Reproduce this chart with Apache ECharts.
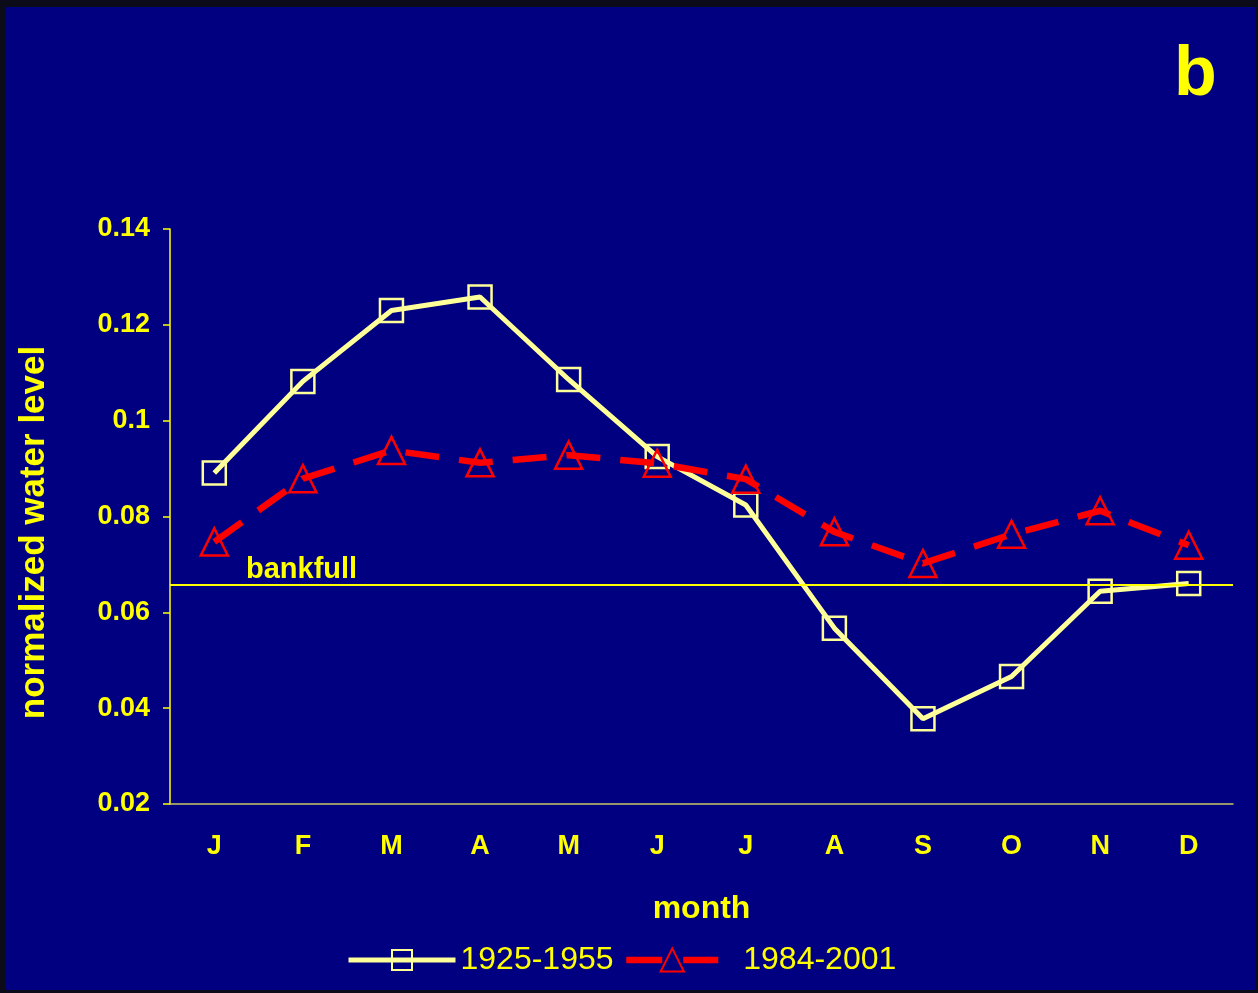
<!DOCTYPE html>
<html>
<head>
<meta charset="utf-8">
<script src="https://cdn.jsdelivr.net/npm/echarts@6/dist/echarts.min.js"></script>
<style>
  html, body { margin: 0; padding: 0; background: #0b0b1a; }
  #chart { position: absolute; left: 0; top: 0; width: 1258px; height: 993px; }
</style>
</head>
<body>
<div id="chart"></div>
<script>
// ---- data ----
var months = ['J', 'F', 'M', 'A', 'M', 'J', 'J', 'A', 'S', 'O', 'N', 'D'];
var level1925 = [0.0891, 0.1082, 0.1230, 0.1258, 0.1086, 0.0925, 0.0824, 0.0567, 0.0378, 0.0466, 0.0644, 0.0660];
var level1984 = [0.0747, 0.0879, 0.0938, 0.0912, 0.0928, 0.0911, 0.0878, 0.0768, 0.0702, 0.0763, 0.0812, 0.0740];
var bankfullLevel = 0.0658;
var yTickLabels = ['0.02', '0.04', '0.06', '0.08', '0.1', '0.12', '0.14'];
var seriesNames = ['1925-1955', '1984-2001'];

var FONT = '"Liberation Sans", Arial, sans-serif';
var YEL = '#FFFF00';
var PALE = '#FFFF99';
var RED = '#FF0000';

var chart = echarts.init(document.getElementById('chart'), null, { renderer: 'canvas' });
chart.setOption({
  backgroundColor: '#0b0b1a',
  animation: false,
  graphic: [{
    type: 'rect', z: -10, silent: true,
    shape: { x: 5, y: 7, width: 1251, height: 983 },
    style: { fill: '#000080' }
  }],
  title: {
    text: 'b', left: 1174, top: 41, padding: 0,
    textStyle: { color: YEL, fontFamily: FONT, fontWeight: 'bold', fontSize: 70 }
  },
  grid: { left: 170, right: 25, top: 229, bottom: 189 },
  legend: [{
    data: [seriesNames[0]], left: 346, top: 944, padding: 0,
    itemWidth: 107, itemHeight: 25,
    lineStyle: { width: 5 },
    textStyle: { color: YEL, fontFamily: FONT, fontSize: 32 }
  }, {
    data: [seriesNames[1]], left: 623, top: 944, padding: 0,
    itemWidth: 92, itemHeight: 29,
    lineStyle: { width: 6.5, type: [36, 21] },
    textStyle: { color: YEL, fontFamily: FONT, fontSize: 32, padding: [0, 0, 0, 20] }
  }],
  xAxis: {
    type: 'category', data: months, boundaryGap: true,
    name: 'month', nameLocation: 'middle', nameGap: 89,
    nameTextStyle: { color: YEL, fontFamily: FONT, fontWeight: 'bold', fontSize: 32 },
    axisLine: { lineStyle: { color: '#C8C864', width: 1.5 } },
    axisTick: { inside: true, length: 8, alignWithLabel: false, lineStyle: { color: '#C8C864', width: 1.5 } },
    axisLabel: { color: YEL, fontFamily: FONT, fontWeight: 'bold', fontSize: 27, margin: 29, interval: 0 },
    splitLine: { show: false }
  },
  yAxis: {
    type: 'value', min: 0.02, max: 0.14, interval: 0.02,
    name: 'normalized water level', nameLocation: 'middle', nameGap: 118, nameRotate: 90,
    nameTextStyle: { color: YEL, fontFamily: FONT, fontWeight: 'bold', fontSize: 35, padding: [0, 32, 0, 0] },
    axisLine: { show: true, lineStyle: { color: YEL, width: 1.5 } },
    axisTick: { show: true, inside: false, length: 7, lineStyle: { color: YEL, width: 1.5 } },
    axisLabel: {
      color: YEL, fontFamily: FONT, fontWeight: 'bold', fontSize: 27, margin: 20,
      formatter: function (v, i) { return yTickLabels[i]; }
    },
    splitLine: { show: false }
  },
  series: [{
    name: seriesNames[0], type: 'line', data: level1925,
    symbol: 'rect', symbolSize: 23,
    lineStyle: { color: PALE, width: 5 },
    itemStyle: { color: 'rgba(0,0,0,0)', borderColor: PALE, borderWidth: 2.5 },
    markLine: {
      silent: true, symbol: 'none', precision: 4,
      lineStyle: { color: YEL, width: 2, type: 'solid' },
      label: {
        show: true, position: 'insideStartTop', formatter: 'bankfull', distance: [76, 0],
        color: YEL, fontFamily: FONT, fontWeight: 'bold', fontSize: 29
      },
      data: [{ yAxis: bankfullLevel }]
    },
    z: 2
  }, {
    name: seriesNames[1], type: 'line', data: level1984,
    symbol: 'triangle', symbolSize: [27, 27],
    lineStyle: { color: RED, width: 6.5, type: [34, 20], cap: 'butt' },
    itemStyle: { color: 'rgba(0,0,0,0)', borderColor: RED, borderWidth: 2.5 },
    z: 3
  }]
});
</script>
</body>
</html>
